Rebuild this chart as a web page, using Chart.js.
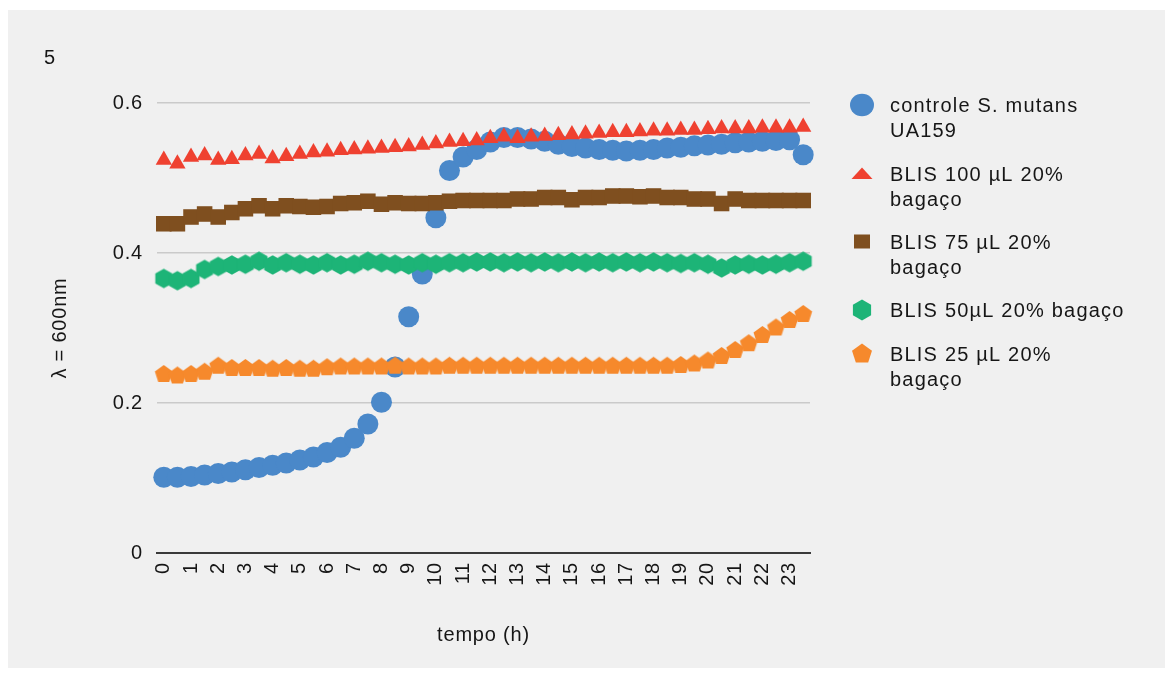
<!DOCTYPE html>
<html>
<head>
<meta charset="utf-8">
<script src="https://cdn.jsdelivr.net/npm/chart.js@4.4.1/dist/chart.umd.min.js"></script>
<style>
  html, body { margin: 0; padding: 0; background: #fff; }
</style>
</head>
<body>
<canvas id="myChart" width="1171" height="673"></canvas>
<script>
// tempo (h), uma leitura a cada meia hora
const hours = [0, 0.5, 1, 1.5, 2, 2.5, 3, 3.5, 4, 4.5, 5, 5.5, 6, 6.5, 7, 7.5,
  8, 8.5, 9, 9.5, 10, 10.5, 11, 11.5, 12, 12.5, 13, 13.5, 14, 14.5, 15, 15.5,
  16, 16.5, 17, 17.5, 18, 18.5, 19, 19.5, 20, 20.5, 21, 21.5, 22, 22.5, 23, 23.5];

const controle = [0.101, 0.101, 0.102, 0.104, 0.106, 0.108, 0.111, 0.114, 0.117, 0.120, 0.124, 0.128,
  0.134, 0.141, 0.153, 0.172, 0.201, 0.248, 0.315, 0.372, 0.447, 0.510, 0.528, 0.538,
  0.548, 0.554, 0.554, 0.552, 0.549, 0.545, 0.542, 0.540, 0.538, 0.537, 0.536, 0.537,
  0.538, 0.540, 0.541, 0.543, 0.544, 0.545, 0.547, 0.548, 0.549, 0.550, 0.551, 0.531];

const blis100 = [0.524, 0.519, 0.528, 0.530, 0.524, 0.525, 0.530, 0.532, 0.526, 0.529, 0.532, 0.534,
  0.535, 0.537, 0.538, 0.539, 0.540, 0.541, 0.542, 0.544, 0.546, 0.548, 0.549, 0.550,
  0.553, 0.555, 0.553, 0.555, 0.556, 0.557, 0.558, 0.559, 0.560, 0.561, 0.561, 0.562,
  0.563, 0.563, 0.564, 0.564, 0.565, 0.566, 0.566, 0.566, 0.567, 0.567, 0.567, 0.568];

const blis75 = [0.439, 0.439, 0.448, 0.452, 0.448, 0.454, 0.459, 0.463, 0.459, 0.463, 0.462, 0.461,
  0.462, 0.466, 0.467, 0.469, 0.465, 0.467, 0.466, 0.466, 0.467, 0.469, 0.470, 0.470,
  0.470, 0.470, 0.472, 0.472, 0.474, 0.474, 0.471, 0.474, 0.474, 0.476, 0.476, 0.475,
  0.476, 0.474, 0.474, 0.472, 0.472, 0.466, 0.472, 0.470, 0.470, 0.470, 0.470, 0.470];

const blis50 = [0.366, 0.363, 0.366, 0.378, 0.382, 0.384, 0.385, 0.389, 0.384, 0.387, 0.385, 0.384,
  0.387, 0.384, 0.385, 0.389, 0.387, 0.385, 0.384, 0.387, 0.385, 0.387, 0.387, 0.388,
  0.388, 0.387, 0.388, 0.387, 0.388, 0.387, 0.388, 0.387, 0.388, 0.387, 0.388, 0.387,
  0.388, 0.387, 0.386, 0.387, 0.385, 0.380, 0.384, 0.385, 0.384, 0.385, 0.387, 0.389];

const blis25 = [0.238, 0.236, 0.238, 0.241, 0.249, 0.246, 0.246, 0.246, 0.245, 0.246, 0.245, 0.245,
  0.247, 0.248, 0.248, 0.248, 0.248, 0.249, 0.248, 0.248, 0.248, 0.249, 0.249, 0.249,
  0.249, 0.249, 0.249, 0.249, 0.249, 0.249, 0.249, 0.249, 0.249, 0.249, 0.249, 0.249,
  0.249, 0.249, 0.250, 0.252, 0.256, 0.262, 0.270, 0.279, 0.290, 0.300, 0.310, 0.318];

const yTicks = [0, 0.2, 0.4, 0.6];

const seriesNames = [
  ['controle S. mutans', 'UA159'],
  ['BLIS 100 µL 20%', 'bagaço'],
  ['BLIS 75 µL 20%', 'bagaço'],
  ['BLIS 50µL 20% bagaço'],
  ['BLIS 25 µL 20%', 'bagaço']
];

const FONT = 'Arial, "Liberation Sans", sans-serif';
const TXT = '#161616';
const colors = ['#4a88c9', '#ef4130', '#7f4f1f', '#1db477', '#f6892c'];

// poligono regular (ponta para cima) desenhado num canvas pequeno, usado como pointStyle
const polygonPath = (ctx, cx, cy, r, sides) => {
  ctx.beginPath();
  for (let k = 0; k < sides; k++) {
    const a = -Math.PI / 2 + k * 2 * Math.PI / sides;
    const px = cx + r * Math.cos(a), py = cy + r * Math.sin(a);
    if (k === 0) ctx.moveTo(px, py); else ctx.lineTo(px, py);
  }
  ctx.closePath();
};
const makeShape = (sides, r, color) => {
  const c = document.createElement('canvas');
  const s = Math.ceil(r * 2 + 2);
  c.width = s; c.height = s;
  const g = c.getContext('2d');
  g.fillStyle = color;
  polygonPath(g, s / 2, s / 2, r, sides);
  g.fill();
  return c;
};
const hexagon = makeShape(6, 9.8, colors[3]);
const pentagon = makeShape(5, 9.4, colors[4]);

// fundo cinza + numero "5" no canto
const backgroundPlugin = {
  id: 'panel',
  beforeDraw(chart) {
    const ctx = chart.ctx;
    ctx.save();
    ctx.fillStyle = '#f0f0f0';
    ctx.fillRect(8, 10, 1157, 658);
    ctx.fillStyle = TXT;
    ctx.font = '20px ' + FONT;
    ctx.textAlign = 'left';
    ctx.textBaseline = 'alphabetic';
    ctx.fillText('5', 44, 64);
    ctx.restore();
    // texto um pouco mais espaçado, como no original
    if ('letterSpacing' in ctx) ctx.letterSpacing = '0.8px';
  }
};

// legenda a direita, com quebra de linha como no original
const legendRows = [105, 173.5, 241.5, 310, 353.5];
const legendPlugin = {
  id: 'sideLegend',
  afterDraw(chart) {
    const ctx = chart.ctx;
    ctx.save();
    const mx = 862;
    legendRows.forEach((y, i) => {
      ctx.fillStyle = colors[i];
      ctx.beginPath();
      if (i === 0) {
        ctx.ellipse(mx, y, 12, 11.3, 0, 0, Math.PI * 2);
      } else if (i === 1) {
        ctx.moveTo(mx - 10.5, y + 5.5);
        ctx.lineTo(mx + 10.5, y + 5.5);
        ctx.lineTo(mx, y - 6);
        ctx.closePath();
      } else if (i === 2) {
        ctx.rect(mx - 8, y - 7, 16, 14);
      } else if (i === 3) {
        polygonPath(ctx, mx, y, 10.5, 6);
      } else {
        polygonPath(ctx, mx, y + 0.5, 10.5, 5);
      }
      ctx.fill();

      ctx.fillStyle = TXT;
      ctx.font = '20px ' + FONT;
      ctx.textAlign = 'left';
      ctx.textBaseline = 'alphabetic';
      if ('letterSpacing' in ctx) ctx.letterSpacing = '1.2px';
      seriesNames[i].forEach((line, j) => {
        ctx.fillText(line, 890, y + 7 + j * 25);
      });
    });
    ctx.restore();
  }
};

const ctx = document.getElementById('myChart').getContext('2d');
const chart = new Chart(ctx, {
  type: 'line',
  data: {
    labels: hours,
    datasets: [
      { label: seriesNames[0].join(' '), data: controle, pointStyle: 'circle', pointRadius: 10.5, order: 1 },
      { label: seriesNames[1].join(' '), data: blis100, pointStyle: 'triangle', pointRadius: 9.4, order: 0 },
      { label: seriesNames[2].join(' '), data: blis75, pointStyle: 'rect', pointRadius: 11, order: 0 },
      { label: seriesNames[3].join(' '), data: blis50, pointStyle: hexagon, order: 0 },
      { label: seriesNames[4].join(' '), data: blis25, pointStyle: pentagon, order: 0 }
    ].map((d, i) => Object.assign(d, {
      showLine: false,
      backgroundColor: colors[i],
      borderColor: colors[i],
      pointBackgroundColor: colors[i],
      pointBorderColor: colors[i],
      pointBorderWidth: 0,
      pointHoverRadius: d.pointRadius
    }))
  },
  options: {
    responsive: false,
    animation: false,
    devicePixelRatio: 1,
    layout: { padding: { left: 36, top: 103, right: 361, bottom: 0 } },
    plugins: {
      legend: { display: false },
      tooltip: { enabled: false }
    },
    scales: {
      x: {
        type: 'category',
        offset: true,
        afterFit: s => { s.height = 120; },
        grid: { display: false, drawTicks: false },
        border: { display: true, color: '#3a3a3a', width: 2 },
        ticks: {
          autoSkip: false,
          maxRotation: 90,
          minRotation: 90,
          padding: 9,
          color: TXT,
          font: { size: 20, family: FONT },
          callback: (v, i) => Number.isInteger(hours[i]) ? String(hours[i]) : ''
        },
        title: {
          display: true,
          text: 'tempo (h)',
          color: TXT,
          font: { size: 20, family: FONT },
          padding: { top: 0, bottom: 26 }
        }
      },
      y: {
        min: 0,
        max: 0.6,
        afterBuildTicks: s => { s.ticks = yTicks.map(v => ({ value: v })); },
        afterFit: s => { s.width = 121; },
        grid: {
          drawTicks: false,
          lineWidth: 1.5,
          color: c => (c.tick && c.tick.value === 0) ? 'rgba(0,0,0,0)' : '#cacaca'
        },
        border: { display: false },
        ticks: {
          padding: 14,
          color: TXT,
          font: { size: 20, family: FONT },
          callback: v => String(v)
        },
        title: {
          display: true,
          text: 'λ = 600nm',
          color: TXT,
          font: { size: 20, family: FONT },
          padding: { top: 12, bottom: 0 }
        }
      }
    }
  },
  plugins: [backgroundPlugin, legendPlugin]
});
</script>
</body>
</html>
